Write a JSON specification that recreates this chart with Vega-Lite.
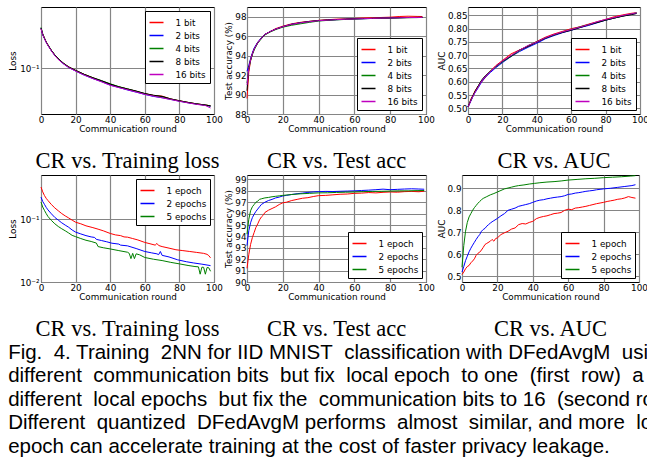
{
"$schema": "https://vega.github.io/schema/vega-lite/v6.json",
"background": "white",
"padding": {"left": 8, "top": 6, "right": 0, "bottom": 0},
"config": {
  "view": {"stroke": "black", "strokeWidth": 1},
  "axis": {"labelFont": "DejaVu Sans", "labelFontSize": 8.8, "labelColor": "black", "titleFont": "DejaVu Sans", "titleFontSize": 8.8, "titleFontWeight": "normal", "titleColor": "black", "domain": false, "ticks": false, "tickSize": 0, "labelPadding": 1, "titlePadding": 1, "gridColor": "#858585", "gridWidth": 1.2, "labelFlush": false, "labelOverlap": false},
  "legend": {"labelFont": "DejaVu Sans", "labelFontSize": 8.8, "labelColor": "black", "fillColor": "white", "strokeColor": "black", "padding": 3.5, "offset": 4, "rowPadding": -0.7, "symbolSize": 196, "symbolStrokeWidth": 1.5, "symbolType": "stroke", "labelOffset": 11, "cornerRadius": 0}
},
"title": {"text": ["Fig.\u00a0 4. Training\u00a0 2NN for IID MNIST\u00a0 classification with DFedAvgM\u00a0 usi", "different\u00a0 communication bits\u00a0 but fix\u00a0 local epoch\u00a0 to one\u00a0 (first\u00a0 row)\u00a0 a", "different\u00a0 local epochs\u00a0 but fix the\u00a0 communication bits to 16\u00a0 (second ro", "Different\u00a0 quantized\u00a0 DFedAvgM performs\u00a0 almost\u00a0 similar, and more\u00a0 lo", "epoch can accelerate training at the cost of faster privacy leakage."], "orient": "bottom", "anchor": "start", "frame": "bounds", "font": "Liberation Sans", "fontSize": 20.5, "fontWeight": "normal", "lineHeight": 23.5, "offset": 2, "color": "black"},
"datasets": {
"lb": [
{"s":"1 bit","x":0,"y":0.40},{"s":"1 bit","x":1,"y":0.33},{"s":"1 bit","x":2,"y":0.288},{"s":"1 bit","x":3,"y":0.252},{"s":"1 bit","x":4,"y":0.226},{"s":"1 bit","x":6,"y":0.186},{"s":"1 bit","x":8,"y":0.158},{"s":"1 bit","x":10,"y":0.138},{"s":"1 bit","x":13,"y":0.118},{"s":"1 bit","x":16,"y":0.104},{"s":"1 bit","x":20,"y":0.092},{"s":"1 bit","x":25,"y":0.080},{"s":"1 bit","x":30,"y":0.071},{"s":"1 bit","x":35,"y":0.063},{"s":"1 bit","x":40,"y":0.056},{"s":"1 bit","x":45,"y":0.0515},{"s":"1 bit","x":50,"y":0.0478},{"s":"1 bit","x":55,"y":0.044},{"s":"1 bit","x":60,"y":0.0405},{"s":"1 bit","x":65,"y":0.0382},{"s":"1 bit","x":70,"y":0.0372},{"s":"1 bit","x":75,"y":0.0336},{"s":"1 bit","x":80,"y":0.0316},{"s":"1 bit","x":85,"y":0.0298},{"s":"1 bit","x":90,"y":0.0283},{"s":"1 bit","x":95,"y":0.0272},{"s":"1 bit","x":98,"y":0.0264},
{"s":"2 bits","x":0,"y":0.41},{"s":"2 bits","x":1,"y":0.32},{"s":"2 bits","x":2,"y":0.283},{"s":"2 bits","x":3,"y":0.248},{"s":"2 bits","x":4,"y":0.223},{"s":"2 bits","x":6,"y":0.184},{"s":"2 bits","x":8,"y":0.156},{"s":"2 bits","x":10,"y":0.136},{"s":"2 bits","x":13,"y":0.116},{"s":"2 bits","x":16,"y":0.102},{"s":"2 bits","x":20,"y":0.090},{"s":"2 bits","x":25,"y":0.078},{"s":"2 bits","x":30,"y":0.069},{"s":"2 bits","x":35,"y":0.062},{"s":"2 bits","x":40,"y":0.0548},{"s":"2 bits","x":45,"y":0.0505},{"s":"2 bits","x":50,"y":0.0462},{"s":"2 bits","x":55,"y":0.0428},{"s":"2 bits","x":60,"y":0.0395},{"s":"2 bits","x":65,"y":0.0368},{"s":"2 bits","x":70,"y":0.0352},{"s":"2 bits","x":75,"y":0.0331},{"s":"2 bits","x":80,"y":0.0311},{"s":"2 bits","x":85,"y":0.0294},{"s":"2 bits","x":90,"y":0.028},{"s":"2 bits","x":95,"y":0.0269},{"s":"2 bits","x":98,"y":0.026},
{"s":"4 bits","x":0,"y":0.42},{"s":"4 bits","x":1,"y":0.335},{"s":"4 bits","x":2,"y":0.287},{"s":"4 bits","x":3,"y":0.251},{"s":"4 bits","x":4,"y":0.227},{"s":"4 bits","x":6,"y":0.187},{"s":"4 bits","x":8,"y":0.159},{"s":"4 bits","x":10,"y":0.139},{"s":"4 bits","x":13,"y":0.119},{"s":"4 bits","x":16,"y":0.104},{"s":"4 bits","x":20,"y":0.092},{"s":"4 bits","x":25,"y":0.080},{"s":"4 bits","x":30,"y":0.071},{"s":"4 bits","x":35,"y":0.064},{"s":"4 bits","x":40,"y":0.0575},{"s":"4 bits","x":45,"y":0.052},{"s":"4 bits","x":50,"y":0.048},{"s":"4 bits","x":55,"y":0.0442},{"s":"4 bits","x":60,"y":0.0405},{"s":"4 bits","x":65,"y":0.038},{"s":"4 bits","x":70,"y":0.0365},{"s":"4 bits","x":75,"y":0.0335},{"s":"4 bits","x":80,"y":0.0314},{"s":"4 bits","x":85,"y":0.0297},{"s":"4 bits","x":90,"y":0.0282},{"s":"4 bits","x":95,"y":0.0271},{"s":"4 bits","x":98,"y":0.0263},
{"s":"8 bits","x":0,"y":0.41},{"s":"8 bits","x":1,"y":0.33},{"s":"8 bits","x":2,"y":0.285},{"s":"8 bits","x":3,"y":0.25},{"s":"8 bits","x":4,"y":0.225},{"s":"8 bits","x":6,"y":0.186},{"s":"8 bits","x":8,"y":0.158},{"s":"8 bits","x":10,"y":0.138},{"s":"8 bits","x":13,"y":0.118},{"s":"8 bits","x":16,"y":0.104},{"s":"8 bits","x":20,"y":0.092},{"s":"8 bits","x":25,"y":0.080},{"s":"8 bits","x":30,"y":0.071},{"s":"8 bits","x":35,"y":0.064},{"s":"8 bits","x":40,"y":0.0568},{"s":"8 bits","x":45,"y":0.0515},{"s":"8 bits","x":50,"y":0.0478},{"s":"8 bits","x":55,"y":0.0445},{"s":"8 bits","x":60,"y":0.0408},{"s":"8 bits","x":65,"y":0.0383},{"s":"8 bits","x":70,"y":0.0368},{"s":"8 bits","x":75,"y":0.0337},{"s":"8 bits","x":80,"y":0.0316},{"s":"8 bits","x":85,"y":0.0298},{"s":"8 bits","x":90,"y":0.0283},{"s":"8 bits","x":95,"y":0.0272},{"s":"8 bits","x":98,"y":0.0264},
{"s":"16 bits","x":0,"y":0.40},{"s":"16 bits","x":1,"y":0.325},{"s":"16 bits","x":2,"y":0.282},{"s":"16 bits","x":3,"y":0.248},{"s":"16 bits","x":4,"y":0.222},{"s":"16 bits","x":6,"y":0.183},{"s":"16 bits","x":8,"y":0.155},{"s":"16 bits","x":10,"y":0.135},{"s":"16 bits","x":13,"y":0.116},{"s":"16 bits","x":16,"y":0.102},{"s":"16 bits","x":20,"y":0.090},{"s":"16 bits","x":25,"y":0.078},{"s":"16 bits","x":30,"y":0.069},{"s":"16 bits","x":35,"y":0.0615},{"s":"16 bits","x":40,"y":0.0545},{"s":"16 bits","x":45,"y":0.0502},{"s":"16 bits","x":50,"y":0.0465},{"s":"16 bits","x":55,"y":0.043},{"s":"16 bits","x":60,"y":0.0396},{"s":"16 bits","x":65,"y":0.0372},{"s":"16 bits","x":70,"y":0.035},{"s":"16 bits","x":75,"y":0.033},{"s":"16 bits","x":80,"y":0.031},{"s":"16 bits","x":85,"y":0.0293},{"s":"16 bits","x":90,"y":0.0278},{"s":"16 bits","x":95,"y":0.0267},{"s":"16 bits","x":98,"y":0.0245}
],
"ab": [
{"s":"1 bit","x":0,"y":89.6},{"s":"1 bit","x":1,"y":92.3},{"s":"1 bit","x":2,"y":93.5},{"s":"1 bit","x":3,"y":94.2},{"s":"1 bit","x":4,"y":94.7},{"s":"1 bit","x":6,"y":95.4},{"s":"1 bit","x":8,"y":95.8},{"s":"1 bit","x":10,"y":96.2},{"s":"1 bit","x":13,"y":96.5},{"s":"1 bit","x":16,"y":96.8},{"s":"1 bit","x":20,"y":97.05},{"s":"1 bit","x":25,"y":97.3},{"s":"1 bit","x":30,"y":97.45},{"s":"1 bit","x":35,"y":97.55},{"s":"1 bit","x":40,"y":97.65},{"s":"1 bit","x":45,"y":97.72},{"s":"1 bit","x":50,"y":97.78},{"s":"1 bit","x":55,"y":97.8},{"s":"1 bit","x":60,"y":97.85},{"s":"1 bit","x":65,"y":97.9},{"s":"1 bit","x":70,"y":97.92},{"s":"1 bit","x":75,"y":97.95},{"s":"1 bit","x":80,"y":97.98},{"s":"1 bit","x":85,"y":98.05},{"s":"1 bit","x":90,"y":98.08},{"s":"1 bit","x":95,"y":98.06},{"s":"1 bit","x":98,"y":98.05},
{"s":"2 bits","x":0,"y":92.4},{"s":"2 bits","x":1,"y":93.0},{"s":"2 bits","x":2,"y":93.7},{"s":"2 bits","x":3,"y":94.3},{"s":"2 bits","x":4,"y":94.8},{"s":"2 bits","x":6,"y":95.4},{"s":"2 bits","x":8,"y":95.85},{"s":"2 bits","x":10,"y":96.2},{"s":"2 bits","x":13,"y":96.5},{"s":"2 bits","x":16,"y":96.75},{"s":"2 bits","x":20,"y":97.0},{"s":"2 bits","x":25,"y":97.25},{"s":"2 bits","x":30,"y":97.4},{"s":"2 bits","x":35,"y":97.5},{"s":"2 bits","x":40,"y":97.62},{"s":"2 bits","x":45,"y":97.66},{"s":"2 bits","x":50,"y":97.72},{"s":"2 bits","x":55,"y":97.76},{"s":"2 bits","x":60,"y":97.8},{"s":"2 bits","x":65,"y":97.82},{"s":"2 bits","x":70,"y":97.85},{"s":"2 bits","x":75,"y":97.88},{"s":"2 bits","x":80,"y":97.9},{"s":"2 bits","x":85,"y":97.92},{"s":"2 bits","x":90,"y":97.95},{"s":"2 bits","x":95,"y":97.94},{"s":"2 bits","x":98,"y":97.96},
{"s":"4 bits","x":0,"y":91.2},{"s":"4 bits","x":1,"y":92.6},{"s":"4 bits","x":2,"y":93.5},{"s":"4 bits","x":3,"y":94.1},{"s":"4 bits","x":4,"y":94.6},{"s":"4 bits","x":6,"y":95.3},{"s":"4 bits","x":8,"y":95.75},{"s":"4 bits","x":10,"y":96.15},{"s":"4 bits","x":13,"y":96.45},{"s":"4 bits","x":16,"y":96.7},{"s":"4 bits","x":20,"y":96.95},{"s":"4 bits","x":25,"y":97.15},{"s":"4 bits","x":30,"y":97.3},{"s":"4 bits","x":35,"y":97.45},{"s":"4 bits","x":40,"y":97.58},{"s":"4 bits","x":45,"y":97.65},{"s":"4 bits","x":50,"y":97.7},{"s":"4 bits","x":55,"y":97.75},{"s":"4 bits","x":60,"y":97.78},{"s":"4 bits","x":65,"y":97.82},{"s":"4 bits","x":70,"y":97.85},{"s":"4 bits","x":75,"y":97.86},{"s":"4 bits","x":80,"y":97.88},{"s":"4 bits","x":85,"y":97.9},{"s":"4 bits","x":90,"y":97.92},{"s":"4 bits","x":95,"y":97.94},{"s":"4 bits","x":98,"y":97.95},
{"s":"8 bits","x":0,"y":90.4},{"s":"8 bits","x":1,"y":92.8},{"s":"8 bits","x":2,"y":93.6},{"s":"8 bits","x":3,"y":94.2},{"s":"8 bits","x":4,"y":94.7},{"s":"8 bits","x":6,"y":95.35},{"s":"8 bits","x":8,"y":95.8},{"s":"8 bits","x":10,"y":96.2},{"s":"8 bits","x":13,"y":96.5},{"s":"8 bits","x":16,"y":96.75},{"s":"8 bits","x":20,"y":97.0},{"s":"8 bits","x":25,"y":97.25},{"s":"8 bits","x":30,"y":97.42},{"s":"8 bits","x":35,"y":97.55},{"s":"8 bits","x":40,"y":97.64},{"s":"8 bits","x":45,"y":97.7},{"s":"8 bits","x":50,"y":97.74},{"s":"8 bits","x":55,"y":97.78},{"s":"8 bits","x":60,"y":97.82},{"s":"8 bits","x":65,"y":97.84},{"s":"8 bits","x":70,"y":97.86},{"s":"8 bits","x":75,"y":97.88},{"s":"8 bits","x":80,"y":97.9},{"s":"8 bits","x":85,"y":97.93},{"s":"8 bits","x":90,"y":97.95},{"s":"8 bits","x":95,"y":97.96},{"s":"8 bits","x":98,"y":97.97},
{"s":"16 bits","x":0,"y":91.0},{"s":"16 bits","x":1,"y":92.7},{"s":"16 bits","x":2,"y":93.6},{"s":"16 bits","x":3,"y":94.2},{"s":"16 bits","x":4,"y":94.7},{"s":"16 bits","x":6,"y":95.35},{"s":"16 bits","x":8,"y":95.8},{"s":"16 bits","x":10,"y":96.2},{"s":"16 bits","x":13,"y":96.5},{"s":"16 bits","x":16,"y":96.75},{"s":"16 bits","x":20,"y":97.0},{"s":"16 bits","x":25,"y":97.25},{"s":"16 bits","x":30,"y":97.4},{"s":"16 bits","x":35,"y":97.52},{"s":"16 bits","x":40,"y":97.62},{"s":"16 bits","x":45,"y":97.68},{"s":"16 bits","x":50,"y":97.73},{"s":"16 bits","x":55,"y":97.77},{"s":"16 bits","x":60,"y":97.8},{"s":"16 bits","x":65,"y":97.83},{"s":"16 bits","x":70,"y":97.86},{"s":"16 bits","x":75,"y":97.88},{"s":"16 bits","x":80,"y":97.9},{"s":"16 bits","x":85,"y":97.92},{"s":"16 bits","x":90,"y":97.94},{"s":"16 bits","x":95,"y":97.95},{"s":"16 bits","x":98,"y":97.96}
],
"ub": [
{"s":"1 bit","x":0,"y":0.505},{"s":"1 bit","x":1,"y":0.522},{"s":"1 bit","x":2,"y":0.54},{"s":"1 bit","x":3,"y":0.55},{"s":"1 bit","x":4,"y":0.565},{"s":"1 bit","x":6,"y":0.585},{"s":"1 bit","x":8,"y":0.6},{"s":"1 bit","x":10,"y":0.615},{"s":"1 bit","x":13,"y":0.64},{"s":"1 bit","x":16,"y":0.66},{"s":"1 bit","x":20,"y":0.68},{"s":"1 bit","x":25,"y":0.705},{"s":"1 bit","x":30,"y":0.72},{"s":"1 bit","x":35,"y":0.735},{"s":"1 bit","x":40,"y":0.752},{"s":"1 bit","x":45,"y":0.768},{"s":"1 bit","x":50,"y":0.78},{"s":"1 bit","x":55,"y":0.79},{"s":"1 bit","x":60,"y":0.8},{"s":"1 bit","x":65,"y":0.807},{"s":"1 bit","x":70,"y":0.817},{"s":"1 bit","x":75,"y":0.826},{"s":"1 bit","x":80,"y":0.835},{"s":"1 bit","x":85,"y":0.845},{"s":"1 bit","x":90,"y":0.852},{"s":"1 bit","x":95,"y":0.858},{"s":"1 bit","x":98,"y":0.86},
{"s":"2 bits","x":0,"y":0.505},{"s":"2 bits","x":1,"y":0.518},{"s":"2 bits","x":2,"y":0.532},{"s":"2 bits","x":3,"y":0.546},{"s":"2 bits","x":4,"y":0.558},{"s":"2 bits","x":6,"y":0.578},{"s":"2 bits","x":8,"y":0.6},{"s":"2 bits","x":10,"y":0.617},{"s":"2 bits","x":13,"y":0.635},{"s":"2 bits","x":16,"y":0.652},{"s":"2 bits","x":20,"y":0.672},{"s":"2 bits","x":25,"y":0.695},{"s":"2 bits","x":30,"y":0.714},{"s":"2 bits","x":35,"y":0.73},{"s":"2 bits","x":40,"y":0.745},{"s":"2 bits","x":45,"y":0.762},{"s":"2 bits","x":50,"y":0.774},{"s":"2 bits","x":55,"y":0.785},{"s":"2 bits","x":60,"y":0.794},{"s":"2 bits","x":65,"y":0.804},{"s":"2 bits","x":70,"y":0.812},{"s":"2 bits","x":75,"y":0.822},{"s":"2 bits","x":80,"y":0.832},{"s":"2 bits","x":85,"y":0.84},{"s":"2 bits","x":90,"y":0.848},{"s":"2 bits","x":95,"y":0.854},{"s":"2 bits","x":98,"y":0.858},
{"s":"4 bits","x":0,"y":0.505},{"s":"4 bits","x":1,"y":0.521},{"s":"4 bits","x":2,"y":0.536},{"s":"4 bits","x":3,"y":0.549},{"s":"4 bits","x":4,"y":0.562},{"s":"4 bits","x":6,"y":0.584},{"s":"4 bits","x":8,"y":0.605},{"s":"4 bits","x":10,"y":0.621},{"s":"4 bits","x":13,"y":0.64},{"s":"4 bits","x":16,"y":0.655},{"s":"4 bits","x":20,"y":0.675},{"s":"4 bits","x":25,"y":0.695},{"s":"4 bits","x":30,"y":0.717},{"s":"4 bits","x":35,"y":0.736},{"s":"4 bits","x":40,"y":0.751},{"s":"4 bits","x":45,"y":0.765},{"s":"4 bits","x":50,"y":0.776},{"s":"4 bits","x":55,"y":0.787},{"s":"4 bits","x":60,"y":0.797},{"s":"4 bits","x":65,"y":0.807},{"s":"4 bits","x":70,"y":0.815},{"s":"4 bits","x":75,"y":0.824},{"s":"4 bits","x":80,"y":0.833},{"s":"4 bits","x":85,"y":0.84},{"s":"4 bits","x":90,"y":0.848},{"s":"4 bits","x":95,"y":0.855},{"s":"4 bits","x":98,"y":0.86},
{"s":"8 bits","x":0,"y":0.505},{"s":"8 bits","x":1,"y":0.52},{"s":"8 bits","x":2,"y":0.535},{"s":"8 bits","x":3,"y":0.55},{"s":"8 bits","x":4,"y":0.562},{"s":"8 bits","x":6,"y":0.585},{"s":"8 bits","x":8,"y":0.607},{"s":"8 bits","x":10,"y":0.622},{"s":"8 bits","x":13,"y":0.639},{"s":"8 bits","x":16,"y":0.657},{"s":"8 bits","x":20,"y":0.677},{"s":"8 bits","x":25,"y":0.697},{"s":"8 bits","x":30,"y":0.72},{"s":"8 bits","x":35,"y":0.733},{"s":"8 bits","x":40,"y":0.749},{"s":"8 bits","x":45,"y":0.764},{"s":"8 bits","x":50,"y":0.777},{"s":"8 bits","x":55,"y":0.786},{"s":"8 bits","x":60,"y":0.794},{"s":"8 bits","x":65,"y":0.804},{"s":"8 bits","x":70,"y":0.814},{"s":"8 bits","x":75,"y":0.823},{"s":"8 bits","x":80,"y":0.832},{"s":"8 bits","x":85,"y":0.84},{"s":"8 bits","x":90,"y":0.847},{"s":"8 bits","x":95,"y":0.853},{"s":"8 bits","x":98,"y":0.857},
{"s":"16 bits","x":0,"y":0.505},{"s":"16 bits","x":1,"y":0.519},{"s":"16 bits","x":2,"y":0.534},{"s":"16 bits","x":3,"y":0.547},{"s":"16 bits","x":4,"y":0.559},{"s":"16 bits","x":6,"y":0.581},{"s":"16 bits","x":8,"y":0.603},{"s":"16 bits","x":10,"y":0.62},{"s":"16 bits","x":13,"y":0.638},{"s":"16 bits","x":16,"y":0.657},{"s":"16 bits","x":20,"y":0.678},{"s":"16 bits","x":25,"y":0.699},{"s":"16 bits","x":30,"y":0.719},{"s":"16 bits","x":35,"y":0.737},{"s":"16 bits","x":40,"y":0.75},{"s":"16 bits","x":45,"y":0.766},{"s":"16 bits","x":50,"y":0.778},{"s":"16 bits","x":55,"y":0.788},{"s":"16 bits","x":60,"y":0.797},{"s":"16 bits","x":65,"y":0.806},{"s":"16 bits","x":70,"y":0.815},{"s":"16 bits","x":75,"y":0.826},{"s":"16 bits","x":80,"y":0.835},{"s":"16 bits","x":85,"y":0.842},{"s":"16 bits","x":90,"y":0.85},{"s":"16 bits","x":95,"y":0.856},{"s":"16 bits","x":98,"y":0.86}
],
"le": [
{"s":"1 epoch","x":0,"y":0.322},{"s":"1 epoch","x":1,"y":0.27},{"s":"1 epoch","x":2,"y":0.236},{"s":"1 epoch","x":3,"y":0.213},{"s":"1 epoch","x":4,"y":0.197},{"s":"1 epoch","x":6,"y":0.17},{"s":"1 epoch","x":8,"y":0.15},{"s":"1 epoch","x":10,"y":0.135},{"s":"1 epoch","x":12,"y":0.122},{"s":"1 epoch","x":14,"y":0.112},{"s":"1 epoch","x":16,"y":0.104},{"s":"1 epoch","x":18,"y":0.096},{"s":"1 epoch","x":20,"y":0.089},{"s":"1 epoch","x":23,"y":0.084},{"s":"1 epoch","x":26,"y":0.078},{"s":"1 epoch","x":30,"y":0.073},{"s":"1 epoch","x":33,"y":0.069},{"s":"1 epoch","x":36,"y":0.065},{"s":"1 epoch","x":40,"y":0.059},{"s":"1 epoch","x":43,"y":0.056},{"s":"1 epoch","x":46,"y":0.0545},{"s":"1 epoch","x":48,"y":0.052},{"s":"1 epoch","x":50,"y":0.0515},{"s":"1 epoch","x":53,"y":0.049},{"s":"1 epoch","x":56,"y":0.0465},{"s":"1 epoch","x":60,"y":0.0425},{"s":"1 epoch","x":63,"y":0.0405},{"s":"1 epoch","x":66,"y":0.0385},{"s":"1 epoch","x":67,"y":0.041},{"s":"1 epoch","x":68,"y":0.038},{"s":"1 epoch","x":70,"y":0.0365},{"s":"1 epoch","x":74,"y":0.0345},{"s":"1 epoch","x":78,"y":0.0325},{"s":"1 epoch","x":82,"y":0.0315},{"s":"1 epoch","x":86,"y":0.0305},{"s":"1 epoch","x":90,"y":0.0295},{"s":"1 epoch","x":94,"y":0.0285},{"s":"1 epoch","x":96,"y":0.0275},{"s":"1 epoch","x":97,"y":0.0262},{"s":"1 epoch","x":98,"y":0.0242},
{"s":"2 epochs","x":0,"y":0.223},{"s":"2 epochs","x":1,"y":0.19},{"s":"2 epochs","x":2,"y":0.171},{"s":"2 epochs","x":3,"y":0.153},{"s":"2 epochs","x":4,"y":0.14},{"s":"2 epochs","x":6,"y":0.121},{"s":"2 epochs","x":8,"y":0.106},{"s":"2 epochs","x":10,"y":0.096},{"s":"2 epochs","x":12,"y":0.087},{"s":"2 epochs","x":14,"y":0.08},{"s":"2 epochs","x":16,"y":0.074},{"s":"2 epochs","x":18,"y":0.067},{"s":"2 epochs","x":20,"y":0.062},{"s":"2 epochs","x":23,"y":0.058},{"s":"2 epochs","x":26,"y":0.0545},{"s":"2 epochs","x":29,"y":0.052},{"s":"2 epochs","x":31,"y":0.051},{"s":"2 epochs","x":32,"y":0.0475},{"s":"2 epochs","x":35,"y":0.0455},{"s":"2 epochs","x":38,"y":0.0435},{"s":"2 epochs","x":41,"y":0.0413},{"s":"2 epochs","x":45,"y":0.040},{"s":"2 epochs","x":46,"y":0.0385},{"s":"2 epochs","x":50,"y":0.0375},{"s":"2 epochs","x":55,"y":0.034},{"s":"2 epochs","x":60,"y":0.0305},{"s":"2 epochs","x":64,"y":0.029},{"s":"2 epochs","x":67,"y":0.028},{"s":"2 epochs","x":68,"y":0.0272},{"s":"2 epochs","x":69,"y":0.0305},{"s":"2 epochs","x":70,"y":0.0265},{"s":"2 epochs","x":74,"y":0.025},{"s":"2 epochs","x":79,"y":0.0225},{"s":"2 epochs","x":84,"y":0.021},{"s":"2 epochs","x":88,"y":0.0201},{"s":"2 epochs","x":93,"y":0.0192},{"s":"2 epochs","x":98,"y":0.0182},
{"s":"5 epochs","x":0,"y":0.186},{"s":"5 epochs","x":1,"y":0.155},{"s":"5 epochs","x":2,"y":0.137},{"s":"5 epochs","x":3,"y":0.122},{"s":"5 epochs","x":4,"y":0.11},{"s":"5 epochs","x":6,"y":0.095},{"s":"5 epochs","x":8,"y":0.084},{"s":"5 epochs","x":10,"y":0.076},{"s":"5 epochs","x":12,"y":0.07},{"s":"5 epochs","x":14,"y":0.065},{"s":"5 epochs","x":16,"y":0.06},{"s":"5 epochs","x":18,"y":0.055},{"s":"5 epochs","x":20,"y":0.0525},{"s":"5 epochs","x":23,"y":0.049},{"s":"5 epochs","x":26,"y":0.046},{"s":"5 epochs","x":29,"y":0.044},{"s":"5 epochs","x":32,"y":0.0415},{"s":"5 epochs","x":33,"y":0.0365},{"s":"5 epochs","x":36,"y":0.035},{"s":"5 epochs","x":40,"y":0.0335},{"s":"5 epochs","x":45,"y":0.0315},{"s":"5 epochs","x":50,"y":0.0297},{"s":"5 epochs","x":51,"y":0.0285},{"s":"5 epochs","x":52,"y":0.0235},{"s":"5 epochs","x":53,"y":0.0285},{"s":"5 epochs","x":54,"y":0.0235},{"s":"5 epochs","x":55,"y":0.028},{"s":"5 epochs","x":57,"y":0.027},{"s":"5 epochs","x":60,"y":0.0245},{"s":"5 epochs","x":65,"y":0.023},{"s":"5 epochs","x":70,"y":0.0219},{"s":"5 epochs","x":75,"y":0.0205},{"s":"5 epochs","x":80,"y":0.0194},{"s":"5 epochs","x":85,"y":0.0183},{"s":"5 epochs","x":89,"y":0.0176},{"s":"5 epochs","x":91,"y":0.0174},{"s":"5 epochs","x":92,"y":0.0133},{"s":"5 epochs","x":93,"y":0.0172},{"s":"5 epochs","x":94,"y":0.0171},{"s":"5 epochs","x":95,"y":0.0133},{"s":"5 epochs","x":96,"y":0.017},{"s":"5 epochs","x":97,"y":0.0168},{"s":"5 epochs","x":98,"y":0.0148}
],
"ae": [
{"s":"1 epoch","x":0,"y":91.2},{"s":"1 epoch","x":1,"y":92.4},{"s":"1 epoch","x":2,"y":93.3},{"s":"1 epoch","x":3,"y":93.9},{"s":"1 epoch","x":4,"y":94.35},{"s":"1 epoch","x":5,"y":94.8},{"s":"1 epoch","x":6,"y":95.1},{"s":"1 epoch","x":7,"y":95.45},{"s":"1 epoch","x":8,"y":95.7},{"s":"1 epoch","x":9,"y":95.85},{"s":"1 epoch","x":10,"y":96.1},{"s":"1 epoch","x":12,"y":96.3},{"s":"1 epoch","x":14,"y":96.45},{"s":"1 epoch","x":16,"y":96.6},{"s":"1 epoch","x":18,"y":96.8},{"s":"1 epoch","x":20,"y":96.95},{"s":"1 epoch","x":22,"y":97.0},{"s":"1 epoch","x":25,"y":97.15},{"s":"1 epoch","x":28,"y":97.25},{"s":"1 epoch","x":31,"y":97.35},{"s":"1 epoch","x":34,"y":97.4},{"s":"1 epoch","x":37,"y":97.5},{"s":"1 epoch","x":40,"y":97.58},{"s":"1 epoch","x":44,"y":97.6},{"s":"1 epoch","x":48,"y":97.65},{"s":"1 epoch","x":52,"y":97.7},{"s":"1 epoch","x":56,"y":97.72},{"s":"1 epoch","x":60,"y":97.78},{"s":"1 epoch","x":64,"y":97.8},{"s":"1 epoch","x":68,"y":97.85},{"s":"1 epoch","x":72,"y":97.82},{"s":"1 epoch","x":76,"y":97.87},{"s":"1 epoch","x":80,"y":97.9},{"s":"1 epoch","x":84,"y":97.88},{"s":"1 epoch","x":88,"y":97.93},{"s":"1 epoch","x":92,"y":97.95},{"s":"1 epoch","x":96,"y":97.92},{"s":"1 epoch","x":99,"y":97.97},
{"s":"2 epochs","x":0,"y":93.2},{"s":"2 epochs","x":1,"y":94.5},{"s":"2 epochs","x":2,"y":95.2},{"s":"2 epochs","x":3,"y":95.65},{"s":"2 epochs","x":4,"y":95.95},{"s":"2 epochs","x":5,"y":96.2},{"s":"2 epochs","x":6,"y":96.4},{"s":"2 epochs","x":7,"y":96.6},{"s":"2 epochs","x":8,"y":96.8},{"s":"2 epochs","x":10,"y":97.0},{"s":"2 epochs","x":12,"y":97.15},{"s":"2 epochs","x":14,"y":97.25},{"s":"2 epochs","x":16,"y":97.38},{"s":"2 epochs","x":18,"y":97.45},{"s":"2 epochs","x":20,"y":97.55},{"s":"2 epochs","x":22,"y":97.6},{"s":"2 epochs","x":25,"y":97.68},{"s":"2 epochs","x":28,"y":97.75},{"s":"2 epochs","x":31,"y":97.8},{"s":"2 epochs","x":34,"y":97.86},{"s":"2 epochs","x":37,"y":97.9},{"s":"2 epochs","x":40,"y":97.93},{"s":"2 epochs","x":44,"y":97.95},{"s":"2 epochs","x":48,"y":97.94},{"s":"2 epochs","x":52,"y":97.96},{"s":"2 epochs","x":56,"y":97.98},{"s":"2 epochs","x":60,"y":98.0},{"s":"2 epochs","x":64,"y":98.03},{"s":"2 epochs","x":68,"y":98.06},{"s":"2 epochs","x":72,"y":98.1},{"s":"2 epochs","x":76,"y":98.15},{"s":"2 epochs","x":80,"y":98.1},{"s":"2 epochs","x":84,"y":98.13},{"s":"2 epochs","x":88,"y":98.16},{"s":"2 epochs","x":92,"y":98.18},{"s":"2 epochs","x":96,"y":98.16},{"s":"2 epochs","x":99,"y":98.14},
{"s":"5 epochs","x":0,"y":94.2},{"s":"5 epochs","x":1,"y":95.5},{"s":"5 epochs","x":2,"y":96.25},{"s":"5 epochs","x":3,"y":96.6},{"s":"5 epochs","x":4,"y":96.8},{"s":"5 epochs","x":5,"y":97.0},{"s":"5 epochs","x":6,"y":97.1},{"s":"5 epochs","x":7,"y":97.25},{"s":"5 epochs","x":8,"y":97.3},{"s":"5 epochs","x":10,"y":97.38},{"s":"5 epochs","x":12,"y":97.42},{"s":"5 epochs","x":14,"y":97.48},{"s":"5 epochs","x":16,"y":97.52},{"s":"5 epochs","x":18,"y":97.56},{"s":"5 epochs","x":20,"y":97.6},{"s":"5 epochs","x":25,"y":97.68},{"s":"5 epochs","x":30,"y":97.74},{"s":"5 epochs","x":35,"y":97.78},{"s":"5 epochs","x":40,"y":97.82},{"s":"5 epochs","x":45,"y":97.83},{"s":"5 epochs","x":50,"y":97.86},{"s":"5 epochs","x":55,"y":97.88},{"s":"5 epochs","x":60,"y":97.9},{"s":"5 epochs","x":65,"y":97.93},{"s":"5 epochs","x":70,"y":97.95},{"s":"5 epochs","x":75,"y":97.96},{"s":"5 epochs","x":80,"y":97.98},{"s":"5 epochs","x":85,"y":98.0},{"s":"5 epochs","x":90,"y":98.0},{"s":"5 epochs","x":95,"y":98.02},{"s":"5 epochs","x":99,"y":98.03}
],
"ue": [
{"s":"1 epoch","x":0,"y":0.509},{"s":"1 epoch","x":1,"y":0.52},{"s":"1 epoch","x":2,"y":0.535},{"s":"1 epoch","x":3,"y":0.545},{"s":"1 epoch","x":4,"y":0.55},{"s":"1 epoch","x":5,"y":0.562},{"s":"1 epoch","x":6,"y":0.57},{"s":"1 epoch","x":7,"y":0.58},{"s":"1 epoch","x":8,"y":0.596},{"s":"1 epoch","x":9,"y":0.605},{"s":"1 epoch","x":10,"y":0.61},{"s":"1 epoch","x":11,"y":0.62},{"s":"1 epoch","x":12,"y":0.632},{"s":"1 epoch","x":13,"y":0.645},{"s":"1 epoch","x":14,"y":0.65},{"s":"1 epoch","x":16,"y":0.66},{"s":"1 epoch","x":17,"y":0.668},{"s":"1 epoch","x":18,"y":0.66},{"s":"1 epoch","x":19,"y":0.672},{"s":"1 epoch","x":20,"y":0.675},{"s":"1 epoch","x":22,"y":0.69},{"s":"1 epoch","x":24,"y":0.698},{"s":"1 epoch","x":26,"y":0.705},{"s":"1 epoch","x":28,"y":0.715},{"s":"1 epoch","x":30,"y":0.72},{"s":"1 epoch","x":32,"y":0.735},{"s":"1 epoch","x":34,"y":0.74},{"s":"1 epoch","x":36,"y":0.738},{"s":"1 epoch","x":38,"y":0.745},{"s":"1 epoch","x":40,"y":0.75},{"s":"1 epoch","x":42,"y":0.762},{"s":"1 epoch","x":44,"y":0.768},{"s":"1 epoch","x":46,"y":0.772},{"s":"1 epoch","x":48,"y":0.775},{"s":"1 epoch","x":50,"y":0.78},{"s":"1 epoch","x":52,"y":0.785},{"s":"1 epoch","x":54,"y":0.787},{"s":"1 epoch","x":56,"y":0.79},{"s":"1 epoch","x":58,"y":0.8},{"s":"1 epoch","x":60,"y":0.805},{"s":"1 epoch","x":62,"y":0.803},{"s":"1 epoch","x":64,"y":0.81},{"s":"1 epoch","x":66,"y":0.812},{"s":"1 epoch","x":68,"y":0.815},{"s":"1 epoch","x":70,"y":0.818},{"s":"1 epoch","x":72,"y":0.822},{"s":"1 epoch","x":74,"y":0.826},{"s":"1 epoch","x":76,"y":0.83},{"s":"1 epoch","x":78,"y":0.833},{"s":"1 epoch","x":80,"y":0.836},{"s":"1 epoch","x":82,"y":0.84},{"s":"1 epoch","x":84,"y":0.843},{"s":"1 epoch","x":86,"y":0.846},{"s":"1 epoch","x":88,"y":0.85},{"s":"1 epoch","x":90,"y":0.852},{"s":"1 epoch","x":92,"y":0.856},{"s":"1 epoch","x":94,"y":0.862},{"s":"1 epoch","x":95,"y":0.86},{"s":"1 epoch","x":96,"y":0.858},{"s":"1 epoch","x":98,"y":0.855},
{"s":"2 epochs","x":0,"y":0.52},{"s":"2 epochs","x":1,"y":0.545},{"s":"2 epochs","x":2,"y":0.572},{"s":"2 epochs","x":3,"y":0.592},{"s":"2 epochs","x":4,"y":0.612},{"s":"2 epochs","x":5,"y":0.628},{"s":"2 epochs","x":6,"y":0.642},{"s":"2 epochs","x":7,"y":0.655},{"s":"2 epochs","x":8,"y":0.668},{"s":"2 epochs","x":9,"y":0.68},{"s":"2 epochs","x":10,"y":0.69},{"s":"2 epochs","x":11,"y":0.705},{"s":"2 epochs","x":12,"y":0.713},{"s":"2 epochs","x":13,"y":0.718},{"s":"2 epochs","x":14,"y":0.728},{"s":"2 epochs","x":15,"y":0.735},{"s":"2 epochs","x":16,"y":0.742},{"s":"2 epochs","x":17,"y":0.748},{"s":"2 epochs","x":18,"y":0.753},{"s":"2 epochs","x":20,"y":0.763},{"s":"2 epochs","x":22,"y":0.775},{"s":"2 epochs","x":24,"y":0.785},{"s":"2 epochs","x":26,"y":0.8},{"s":"2 epochs","x":28,"y":0.805},{"s":"2 epochs","x":30,"y":0.81},{"s":"2 epochs","x":32,"y":0.818},{"s":"2 epochs","x":34,"y":0.822},{"s":"2 epochs","x":36,"y":0.826},{"s":"2 epochs","x":38,"y":0.83},{"s":"2 epochs","x":40,"y":0.836},{"s":"2 epochs","x":42,"y":0.842},{"s":"2 epochs","x":44,"y":0.846},{"s":"2 epochs","x":46,"y":0.848},{"s":"2 epochs","x":48,"y":0.852},{"s":"2 epochs","x":50,"y":0.855},{"s":"2 epochs","x":52,"y":0.858},{"s":"2 epochs","x":54,"y":0.86},{"s":"2 epochs","x":56,"y":0.862},{"s":"2 epochs","x":58,"y":0.866},{"s":"2 epochs","x":60,"y":0.872},{"s":"2 epochs","x":62,"y":0.874},{"s":"2 epochs","x":64,"y":0.878},{"s":"2 epochs","x":66,"y":0.88},{"s":"2 epochs","x":68,"y":0.883},{"s":"2 epochs","x":70,"y":0.886},{"s":"2 epochs","x":72,"y":0.888},{"s":"2 epochs","x":74,"y":0.89},{"s":"2 epochs","x":76,"y":0.893},{"s":"2 epochs","x":78,"y":0.895},{"s":"2 epochs","x":80,"y":0.897},{"s":"2 epochs","x":84,"y":0.9},{"s":"2 epochs","x":88,"y":0.904},{"s":"2 epochs","x":92,"y":0.908},{"s":"2 epochs","x":96,"y":0.912},{"s":"2 epochs","x":98,"y":0.916},
{"s":"5 epochs","x":0,"y":0.542},{"s":"5 epochs","x":1,"y":0.64},{"s":"5 epochs","x":2,"y":0.705},{"s":"5 epochs","x":3,"y":0.745},{"s":"5 epochs","x":4,"y":0.77},{"s":"5 epochs","x":5,"y":0.785},{"s":"5 epochs","x":6,"y":0.8},{"s":"5 epochs","x":7,"y":0.812},{"s":"5 epochs","x":8,"y":0.822},{"s":"5 epochs","x":9,"y":0.832},{"s":"5 epochs","x":10,"y":0.84},{"s":"5 epochs","x":11,"y":0.848},{"s":"5 epochs","x":12,"y":0.854},{"s":"5 epochs","x":14,"y":0.862},{"s":"5 epochs","x":16,"y":0.87},{"s":"5 epochs","x":18,"y":0.876},{"s":"5 epochs","x":20,"y":0.883},{"s":"5 epochs","x":22,"y":0.89},{"s":"5 epochs","x":24,"y":0.897},{"s":"5 epochs","x":26,"y":0.901},{"s":"5 epochs","x":28,"y":0.905},{"s":"5 epochs","x":30,"y":0.909},{"s":"5 epochs","x":32,"y":0.912},{"s":"5 epochs","x":35,"y":0.915},{"s":"5 epochs","x":38,"y":0.919},{"s":"5 epochs","x":41,"y":0.922},{"s":"5 epochs","x":44,"y":0.925},{"s":"5 epochs","x":48,"y":0.928},{"s":"5 epochs","x":52,"y":0.93},{"s":"5 epochs","x":56,"y":0.933},{"s":"5 epochs","x":60,"y":0.937},{"s":"5 epochs","x":65,"y":0.94},{"s":"5 epochs","x":70,"y":0.943},{"s":"5 epochs","x":75,"y":0.945},{"s":"5 epochs","x":80,"y":0.948},{"s":"5 epochs","x":85,"y":0.95},{"s":"5 epochs","x":90,"y":0.952},{"s":"5 epochs","x":95,"y":0.955},{"s":"5 epochs","x":98,"y":0.957}
]
},
"spacing": -1,
"vconcat": [
{"hconcat": [
 {"width": 173, "height": 107, "data": {"name": "lb"},
  "title": {"text": "CR vs. Training loss", "orient": "bottom", "anchor": "middle", "frame": "group", "font": "Liberation Serif", "fontSize": 22.5, "fontWeight": "normal", "offset": 16, "color": "black"},
  "layer": [
   {"mark": {"type": "line", "strokeWidth": 1},
    "encoding": {
     "x": {"field": "x", "type": "quantitative", "scale": {"domain": [0, 100], "nice": false, "zero": false}, "axis": {"orient": "bottom", "values": [0, 20, 40, 60, 80, 100], "format": "d", "title": "Communication round"}},
     "y": {"field": "y", "type": "quantitative", "scale": {"type": "log", "domain": [0.0198, 0.86], "nice": false}, "axis": {"orient": "left", "values": [0.1], "labelExpr": "'10⁻¹'", "title": "Loss", "labelPadding": 2, "titlePadding": 2}},
     "color": {"field": "s", "type": "nominal", "scale": {"domain": ["1 bit", "2 bits", "4 bits", "8 bits", "16 bits"], "range": ["#ff0000", "#0000ff", "#008000", "#000000", "#bf00bf"]}, "legend": {"title": null, "orient": "top-right"}}
    }},
   {"mark": {"type": "point", "opacity": 0},
    "encoding": {
     "x": {"field": "x", "type": "quantitative", "axis": {"orient": "top", "values": [5, 10, 15, 25, 30, 35, 45, 50, 55, 65, 70, 75, 85, 90, 95], "labels": false, "title": null, "gridColor": "#dddddd", "gridWidth": 0.6}},
     "y": {"field": "y", "type": "quantitative", "axis": {"orient": "right", "values": [0.02, 0.03, 0.04, 0.05, 0.06, 0.07, 0.08, 0.09, 0.2, 0.3, 0.4, 0.5, 0.6, 0.7, 0.8], "labels": false, "title": null, "gridColor": "#dddddd", "gridWidth": 0.6}}
    }}
  ],
  "resolve": {"axis": {"x": "independent", "y": "independent"}}
 },
 {"width": 179, "height": 107, "data": {"name": "ab"},
  "title": {"text": "CR vs. Test acc", "orient": "bottom", "anchor": "middle", "frame": "group", "font": "Liberation Serif", "fontSize": 22.5, "fontWeight": "normal", "offset": 16, "color": "black"},
  "layer": [
   {"mark": {"type": "line", "strokeWidth": 1},
    "encoding": {
     "x": {"field": "x", "type": "quantitative", "scale": {"domain": [0, 100], "nice": false, "zero": false}, "axis": {"orient": "bottom", "values": [0, 20, 40, 60, 80, 100], "format": "d", "title": "Communication round"}},
     "y": {"field": "y", "type": "quantitative", "scale": {"domain": [88, 99.03], "nice": false, "zero": false}, "axis": {"orient": "left", "values": [88, 90, 92, 94, 96, 98], "format": "d", "title": "Test accuracy (%)"}},
     "color": {"field": "s", "type": "nominal", "scale": {"domain": ["1 bit", "2 bits", "4 bits", "8 bits", "16 bits"], "range": ["#ff0000", "#0000ff", "#008000", "#000000", "#bf00bf"]}, "legend": {"title": null, "orient": "bottom-right"}}
    }},
   {"mark": {"type": "point", "opacity": 0},
    "encoding": {
     "x": {"field": "x", "type": "quantitative", "axis": {"orient": "top", "values": [5, 10, 15, 25, 30, 35, 45, 50, 55, 65, 70, 75, 85, 90, 95], "labels": false, "title": null, "gridColor": "#dddddd", "gridWidth": 0.6}},
     "y": {"field": "y", "type": "quantitative", "axis": {"orient": "right", "values": [88.5, 89, 89.5, 90.5, 91, 91.5, 92.5, 93, 93.5, 94.5, 95, 95.5, 96.5, 97, 97.5, 98.5, 99], "labels": false, "title": null, "gridColor": "#dddddd", "gridWidth": 0.6}}
    }}
  ],
  "resolve": {"axis": {"x": "independent", "y": "independent"}}
 },
 {"width": 172, "height": 107, "data": {"name": "ub"},
  "title": {"text": "CR vs. AUC", "orient": "bottom", "anchor": "middle", "frame": "group", "font": "Liberation Serif", "fontSize": 22.5, "fontWeight": "normal", "offset": 16, "color": "black"},
  "layer": [
   {"mark": {"type": "line", "strokeWidth": 1},
    "encoding": {
     "x": {"field": "x", "type": "quantitative", "scale": {"domain": [0, 100], "nice": false, "zero": false}, "axis": {"orient": "bottom", "values": [0, 20, 40, 60, 80, 100], "format": "d", "title": "Communication round"}},
     "y": {"field": "y", "type": "quantitative", "scale": {"domain": [0.4785, 0.8817], "nice": false, "zero": false}, "axis": {"orient": "left", "values": [0.5, 0.55, 0.6, 0.65, 0.7, 0.75, 0.8, 0.85], "format": ".2f", "title": "AUC"}},
     "color": {"field": "s", "type": "nominal", "scale": {"domain": ["1 bit", "2 bits", "4 bits", "8 bits", "16 bits"], "range": ["#ff0000", "#0000ff", "#008000", "#000000", "#bf00bf"]}, "legend": {"title": null, "orient": "bottom-right"}}
    }},
   {"mark": {"type": "point", "opacity": 0},
    "encoding": {
     "x": {"field": "x", "type": "quantitative", "axis": {"orient": "top", "values": [5, 10, 15, 25, 30, 35, 45, 50, 55, 65, 70, 75, 85, 90, 95], "labels": false, "title": null, "gridColor": "#dddddd", "gridWidth": 0.6}},
     "y": {"field": "y", "type": "quantitative", "axis": {"orient": "right", "values": [0.48, 0.49, 0.51, 0.52, 0.53, 0.54, 0.56, 0.57, 0.58, 0.59, 0.61, 0.62, 0.63, 0.64, 0.66, 0.67, 0.68, 0.69, 0.71, 0.72, 0.73, 0.74, 0.76, 0.77, 0.78, 0.79, 0.81, 0.82, 0.83, 0.84, 0.86, 0.87, 0.88], "labels": false, "title": null, "gridColor": "#dddddd", "gridWidth": 0.6}}
    }}
  ],
  "resolve": {"axis": {"x": "independent", "y": "independent"}}
 }
], "spacing": 1, "resolve": {"scale": {"x": "independent", "y": "independent", "color": "independent"}, "legend": {"color": "independent"}}},
{"hconcat": [
 {"width": 173, "height": 107, "data": {"name": "le"},
  "title": {"text": "CR vs. Training loss", "orient": "bottom", "anchor": "middle", "frame": "group", "font": "Liberation Serif", "fontSize": 22.5, "fontWeight": "normal", "offset": 16, "color": "black"},
  "layer": [
   {"mark": {"type": "line", "strokeWidth": 1},
    "encoding": {
     "x": {"field": "x", "type": "quantitative", "scale": {"domain": [0, 100], "nice": false, "zero": false}, "axis": {"orient": "bottom", "values": [0, 20, 40, 60, 80, 100], "format": "d", "title": "Communication round"}},
     "y": {"field": "y", "type": "quantitative", "scale": {"type": "log", "domain": [0.01, 0.5], "nice": false}, "axis": {"orient": "left", "values": [0.01, 0.1], "labelExpr": "datum.value < 0.05 ? '10⁻²' : '10⁻¹'", "title": "Loss", "labelPadding": 2, "titlePadding": 2}},
     "color": {"field": "s", "type": "nominal", "scale": {"domain": ["1 epoch", "2 epochs", "5 epochs"], "range": ["#ff0000", "#0000ff", "#008000"]}, "legend": {"title": null, "orient": "top-right"}}
    }},
   {"mark": {"type": "point", "opacity": 0},
    "encoding": {
     "x": {"field": "x", "type": "quantitative", "axis": {"orient": "top", "values": [5, 10, 15, 25, 30, 35, 45, 50, 55, 65, 70, 75, 85, 90, 95], "labels": false, "title": null, "gridColor": "#dddddd", "gridWidth": 0.6}},
     "y": {"field": "y", "type": "quantitative", "axis": {"orient": "right", "values": [0.02, 0.03, 0.04, 0.05, 0.06, 0.07, 0.08, 0.09, 0.2, 0.3, 0.4], "labels": false, "title": null, "gridColor": "#dddddd", "gridWidth": 0.6}}
    }}
  ],
  "resolve": {"axis": {"x": "independent", "y": "independent"}}
 },
 {"width": 179, "height": 107, "data": {"name": "ae"},
  "title": {"text": "CR vs. Test acc", "orient": "bottom", "anchor": "middle", "frame": "group", "font": "Liberation Serif", "fontSize": 22.5, "fontWeight": "normal", "offset": 16, "color": "black"},
  "layer": [
   {"mark": {"type": "line", "strokeWidth": 1},
    "encoding": {
     "x": {"field": "x", "type": "quantitative", "scale": {"domain": [0, 100], "nice": false, "zero": false}, "axis": {"orient": "bottom", "values": [0, 20, 40, 60, 80, 100], "format": "d", "title": "Communication round"}},
     "y": {"field": "y", "type": "quantitative", "scale": {"domain": [90, 99.39], "nice": false, "zero": false}, "axis": {"orient": "left", "values": [90, 91, 92, 93, 94, 95, 96, 97, 98, 99], "format": "d", "title": "Test accuracy (%)"}},
     "color": {"field": "s", "type": "nominal", "scale": {"domain": ["1 epoch", "2 epochs", "5 epochs"], "range": ["#ff0000", "#0000ff", "#008000"]}, "legend": {"title": null, "orient": "bottom-right"}}
    }},
   {"mark": {"type": "point", "opacity": 0},
    "encoding": {
     "x": {"field": "x", "type": "quantitative", "axis": {"orient": "top", "values": [5, 10, 15, 25, 30, 35, 45, 50, 55, 65, 70, 75, 85, 90, 95], "labels": false, "title": null, "gridColor": "#dddddd", "gridWidth": 0.6}},
     "y": {"field": "y", "type": "quantitative", "axis": {"orient": "right", "values": [90.2, 90.4, 90.6, 90.8, 91.2, 91.4, 91.6, 91.8, 92.2, 92.4, 92.6, 92.8, 93.2, 93.4, 93.6, 93.8, 94.2, 94.4, 94.6, 94.8, 95.2, 95.4, 95.6, 95.8, 96.2, 96.4, 96.6, 96.8, 97.2, 97.4, 97.6, 97.8, 98.2, 98.4, 98.6, 98.8], "labels": false, "title": null, "gridColor": "#dddddd", "gridWidth": 0.6}}
    }}
  ],
  "resolve": {"axis": {"x": "independent", "y": "independent"}}
 },
 {"width": 177, "height": 107, "data": {"name": "ue"},
  "title": {"text": "CR vs. AUC", "orient": "bottom", "anchor": "middle", "frame": "group", "font": "Liberation Serif", "fontSize": 22.5, "fontWeight": "normal", "offset": 16, "color": "black"},
  "layer": [
   {"mark": {"type": "line", "strokeWidth": 1},
    "encoding": {
     "x": {"field": "x", "type": "quantitative", "scale": {"domain": [0, 100], "nice": false, "zero": false}, "axis": {"orient": "bottom", "values": [0, 20, 40, 60, 80, 100], "format": "d", "title": "Communication round"}},
     "y": {"field": "y", "type": "quantitative", "scale": {"domain": [0.475, 0.96], "nice": false, "zero": false}, "axis": {"orient": "left", "values": [0.5, 0.6, 0.7, 0.8, 0.9], "format": ".1f", "title": "AUC"}},
     "color": {"field": "s", "type": "nominal", "scale": {"domain": ["1 epoch", "2 epochs", "5 epochs"], "range": ["#ff0000", "#0000ff", "#008000"]}, "legend": {"title": null, "orient": "bottom-right"}}
    }},
   {"mark": {"type": "point", "opacity": 0},
    "encoding": {
     "x": {"field": "x", "type": "quantitative", "axis": {"orient": "top", "values": [5, 10, 15, 25, 30, 35, 45, 50, 55, 65, 70, 75, 85, 90, 95], "labels": false, "title": null, "gridColor": "#dddddd", "gridWidth": 0.6}},
     "y": {"field": "y", "type": "quantitative", "axis": {"orient": "right", "values": [0.48, 0.52, 0.54, 0.56, 0.58, 0.62, 0.64, 0.66, 0.68, 0.72, 0.74, 0.76, 0.78, 0.82, 0.84, 0.86, 0.88, 0.92, 0.94, 0.96], "labels": false, "title": null, "gridColor": "#dddddd", "gridWidth": 0.6}}
    }}
  ],
  "resolve": {"axis": {"x": "independent", "y": "independent"}}
 }
], "spacing": 1, "resolve": {"scale": {"x": "independent", "y": "independent", "color": "independent"}, "legend": {"color": "independent"}}}
]
}
